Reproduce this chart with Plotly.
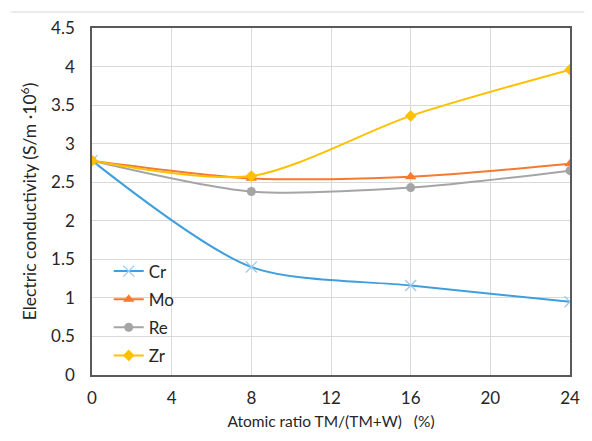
import plotly.graph_objects as go

# Atomic ratio TM/(TM+W), %
ratio = [0, 8, 16, 24]

# Electric conductivity, S/m x 10^6
cr = [2.78, 1.40, 1.16, 0.95]
mo = [2.78, 2.55, 2.57, 2.74]
re = [2.78, 2.38, 2.43, 2.65]
zr = [2.78, 2.58, 3.36, 3.96]

x_ticks = [0, 4, 8, 12, 16, 20, 24]
y_ticks = [0, 0.5, 1, 1.5, 2, 2.5, 3, 3.5, 4, 4.5]
y_tick_text = ["0", "0.5", "1", "1.5", "2", "2.5", "3", "3.5", "4", "4.5"]

series = [
    ("Cr", cr, "#3E9FDC", dict(symbol="x-thin", size=11, color="#9CC9EC",
                                line=dict(width=1.3, color="#9CC9EC"))),
    ("Mo", mo, "#F47A30", dict(symbol="triangle-up", size=10, color="#F47A30")),
    ("Re", re, "#A5A5A5", dict(symbol="circle", size=9, color="#A5A5A5")),
    ("Zr", zr, "#FFC000", dict(symbol="diamond", size=9, color="#FFC000")),
]

FONT = "Lato, 'Open Sans', sans-serif"

fig = go.Figure()
for name, vals, color, marker in series:
    fig.add_trace(go.Scatter(
        x=ratio, y=vals, name=name, legendgroup=name,
        mode="lines+markers",
        line=dict(color=color, width=2, shape="spline", smoothing=0.8),
        marker=marker,
    ))

fig.update_layout(
    width=592, height=441,
    margin=dict(l=92, r=13, t=28, b=66),
    paper_bgcolor="white", plot_bgcolor="white",
    font=dict(family=FONT, size=17, color="#262626"),
    showlegend=True,
    legend=dict(
        x=0.035, y=0.35, xanchor="left", yanchor="top",
        bgcolor="rgba(0,0,0,0)", font=dict(size=17, color="#262626"),
        tracegroupgap=3, itemwidth=30,
    ),
    xaxis=dict(
        range=[0, 24], tickvals=x_ticks, ticks="",
        showgrid=True, gridcolor="#D9D9D9", gridwidth=1,
        showline=True, linecolor="#595959", linewidth=1.5, mirror=True,
        zeroline=False, ticklabelstandoff=7, tickfont=dict(size=17),
        title=dict(text="Atomic ratio TM/(TM+W)   (%)", font=dict(size=15.5), standoff=9),
    ),
    yaxis=dict(
        range=[0, 4.5], tickvals=y_ticks, ticktext=y_tick_text, ticks="",
        showgrid=True, gridcolor="#D9D9D9", gridwidth=1,
        showline=True, linecolor="#595959", linewidth=1.5, mirror=True,
        zeroline=False, ticklabelstandoff=12, tickfont=dict(size=17),
        title=dict(text="Electric conductivity (S/m ·10<sup>6</sup>)", font=dict(size=17.5), standoff=10),
    ),
)

# thin rule across the top of the figure
fig.add_shape(type="line", xref="paper", yref="paper",
              x0=-0.17, x1=1.03, y0=1.046, y1=1.046,
              line=dict(color="#D9D9D9", width=1))

fig.write_html("out.html")
